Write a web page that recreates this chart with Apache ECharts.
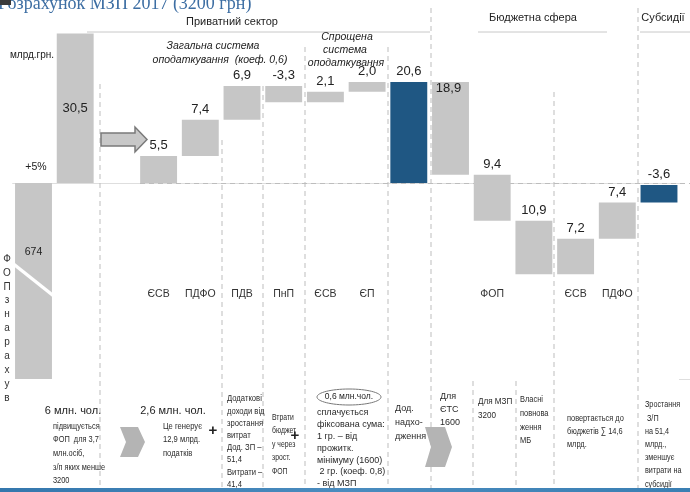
<!DOCTYPE html>
<html><head><meta charset="utf-8">
<script src="https://cdn.jsdelivr.net/npm/echarts@6/dist/echarts.min.js"></script>
<style>html,body{margin:0;padding:0;background:#fff}#c{width:690px;height:492px}</style>
</head><body><div id="c"></div>
<script>
const title = 'Розрахунок МЗП 2017 (3200 грн)';
const categories = ['', '', '', 'ЄСВ', 'ПДФО', 'ПДВ', 'ПнП', 'ЄСВ', 'ЄП', '', '', 'ФОП', '', 'ЄСВ', 'ПДФО', ''];
const deltas = [-674, 30.5, null, 5.5, 7.4, 6.9, -3.3, 2.1, 2.0, 20.6, -18.9, -9.4, -10.9, 7.2, 7.4, -3.6];
const kinds = ['abs', 'abs', 'none', 'step', 'step', 'step', 'step', 'step', 'step', 'total', 'step', 'step', 'step', 'step', 'step', 'total'];
const valueLabels = ['674', '30,5', '', '5,5', '7,4', '6,9', '-3,3', '2,1', '2,0', '20,6', '18,9', '9,4', '10,9', '7,2', '7,4', '-3,6'];
const sectionTitles = ['Приватний сектор', 'Бюджетна сфера', 'Субсидії'];

// build waterfall ranges
let running = 0;
const bars = [];
deltas.forEach((v, i) => {
  const k = kinds[i];
  if (k === 'none' || v === null) return;
  let lo, hi;
  if (k === 'abs') { lo = Math.min(0, v); hi = Math.max(0, v); }
  else if (k === 'step') { const s = running; running += v; lo = Math.min(s, running); hi = Math.max(s, running); }
  else { lo = Math.min(running - v, running); hi = Math.max(running - v, running); }
  bars.push([i, lo, hi, k]);
});

const GRAY = '#c6c6c6', BLUE = '#1f5783', FONT = '"Liberation Sans", Arial, sans-serif';
const labelMode = { 0: 'inside', 1: 'inside', 10: 'insideTop' };

const G = [];
function txt(x, y, t, o) {
  o = o || {};
  G.push({ type: 'text', x: x, y: y, z: 10, style: Object.assign({
    text: t, fill: '#222', font: (o.fs || 10) + 'px ' + FONT,
    align: 'center', verticalAlign: 'middle'
  }, o.st || {}) });
}
function line(x1, y1, x2, y2, color, dash, w, z) {
  G.push({ type: 'line', z: z || 1, shape: { x1, y1, x2, y2 },
    style: { stroke: color, lineWidth: w || 1, lineDash: dash || null } });
}
function note(x, firstCenter, lh, fs, t, sx) {
  G.push({ type: 'text', x: x, y: firstCenter - lh / 2, scaleX: sx || 1, z: 10, style: {
    text: t, fill: '#2a2a2a', font: fs + 'px ' + FONT, lineHeight: lh,
    align: 'left', verticalAlign: 'top' } });
}

// title & small icon
G.push({ type: 'text', x: -2, y: 4, z: 10, style: { text: title, fill: '#3d6ea3', font: '18px "Liberation Serif", "Times New Roman", serif', align: 'left', verticalAlign: 'middle' } });
G.push({ type: 'rect', z: 11, shape: { x: 0, y: 0, width: 11, height: 5 }, style: { fill: '#3a3a3a' } });

// section headers
txt(232, 22, sectionTitles[0], { fs: 11 });
txt(533, 18, sectionTitles[1], { fs: 11 });
txt(663, 18, sectionTitles[2], { fs: 11 });
line(87, 32, 430, 32, '#c8c8c8');
line(478, 32, 607, 32, '#c8c8c8');
line(640, 32, 690, 32, '#c8c8c8');

// dashed separators
const D = '#bdbdbd', DASH = [5, 4];
[[100, 84], [222, 140], [263, 86], [305, 47], [388, 47], [431, 8], [473, 381], [516, 381], [554, 92], [638, 8]]
  .forEach(p => line(p[0], p[1], p[0], 488, D, DASH));
line(140, 183.5, 690, 183.5, D, DASH);
line(679, 379.5, 690, 379.5, '#dedede');

// left annotations
txt(32, 55, 'млрд.грн.', { fs: 10 });
txt(36, 167, '+5%', { fs: 10.5 });
G.push({ type: 'text', x: 7, y: 252, z: 10, style: { text: 'ФОПзнарахув'.split('').join('\n'), fill: '#333', font: '10px ' + FONT, lineHeight: 13.9, align: 'center', verticalAlign: 'top' } });
line(11, 262, 55, 297, '#ffffff', null, 3.5, 50);

// italic group captions
const IT = { fs: 10.5, st: { font: 'italic 10.5px ' + FONT } };
txt(213, 46, 'Загальна система', IT);
txt(220, 60, 'оподаткування  (коеф. 0,6)', IT);
txt(347, 37, 'Спрощена', IT);
txt(345, 50, 'система', IT);
txt(346, 63, 'оподаткування', IT);

// big arrow
G.push({ type: 'polygon', z: 5, shape: { points: [[101, 133], [135, 133], [135, 127], [147, 139.5], [135, 152], [135, 146], [101, 146]] },
  style: { fill: '#c8c8c8', stroke: '#7a7a7a', lineWidth: 1.5 } });

// bottom notes
txt(73, 411, '6 млн. чол.', { fs: 11 });
txt(173, 411, '2,6 млн. чол.', { fs: 11 });
note(53, 426, 13.7, 9.5, 'підвищується\nФОП  для 3,7\nмлн.осіб,\nз/п яких менше\n3200', 0.78);
G.push({ type: 'polygon', z: 5, shape: { points: [[120, 427], [138, 427], [145, 442], [138, 457], [120, 457], [126, 442]] }, style: { fill: '#b4b4b4' } });
note(163, 426, 13.7, 9.5, 'Це генерує\n12,9 млрд.\nподатків', 0.8);
txt(213, 431, '+', { fs: 15, st: { font: 'bold 15px ' + FONT } });
note(227, 399, 12.2, 9, 'Додаткові\nдоходи від\nзростання\nвитрат\nДод. ЗП –\n51,4\nВитрати –\n41,4', 0.85);
note(272, 417, 13.6, 9.5, 'Втрати\nбюджет\nу через\nзрост.\nФОП', 0.72);
txt(295, 436, '+', { fs: 15, st: { font: 'bold 15px ' + FONT } });
G.push({ type: 'ellipse', z: 5, shape: { cx: 349, cy: 397, rx: 32, ry: 8 }, style: { fill: 'none', stroke: '#777', lineWidth: 1 } });
txt(349, 397, '0,6 млн.чол.', { fs: 8.5 });
note(317, 413, 11.8, 9, 'сплачується\nфіксована сума:\n1 гр. – від\nпрожитк.\nмінімуму (1600)\n 2 гр. (коеф. 0,8)\n- від МЗП');
note(395, 409, 14, 9, 'Дод.\nнадхо-\nдження');
G.push({ type: 'polygon', z: 5, shape: { points: [[425, 427], [445, 427], [452, 447], [445, 467], [425, 467], [431, 447]] }, style: { fill: '#b4b4b4' } });
note(440, 397, 12.6, 9, 'Для\nЄТС\n1600');
note(478, 402, 14, 9, 'Для МЗП\n3200', 0.9);
note(520, 400, 13.6, 9, 'Власні\nповнова\nження\nМБ', 0.83);
note(567, 418, 13.3, 9.5, 'повертається до\nбюджетів ∑ 14,6\nмлрд.', 0.78);
note(645, 405, 13.2, 8.5, 'Зростання\n З/П\nна 51,4\nмлрд.,\nзменшує\nвитрати на\nсубсидії', 0.85);

// bottom decorative band
G.push({ type: 'rect', z: 12, shape: { x: 0, y: 488, width: 690, height: 4 },
  style: { fill: new echarts.graphic.LinearGradient(0, 0, 1, 0, [{ offset: 0, color: '#3477ad' }, { offset: 0.5, color: '#4a8cbf' }, { offset: 1, color: '#3a7fb3' }]) } });

const chart = echarts.init(document.getElementById('c'), null, { renderer: 'canvas' });
chart.setOption({
  animation: false,
  grid: { left: 12.65, right: 10.15, top: 6.6, bottom: 113 },
  xAxis: { type: 'category', data: categories, axisTick: { show: false },
    axisLine: { lineStyle: { color: '#dedede' } },
    axisLabel: { interval: 0, margin: -90, fontSize: 10.5, color: '#333', fontFamily: FONT } },
  yAxis: { type: 'value', min: -40, max: 36, show: false, splitLine: { show: false } },
  series: [{
    type: 'custom', clip: true, z: 3,
    data: bars,
    renderItem: function (params, api) {
      const i = api.value(0), lo = api.value(1), hi = api.value(2);
      const k = bars[params.dataIndex][3];
      const pT = api.coord([i, hi]), pB = api.coord([i, lo]);
      const w = api.size([1, 0])[0] * 0.885;
      const rect = { type: 'rect', shape: { x: pT[0] - w / 2, y: pT[1], width: w, height: pB[1] - pT[1] },
        style: { fill: k === 'total' ? BLUE : GRAY } };
      const mode = labelMode[i] || 'top';
      let ty, va = 'middle', fs = 13;
      const yB = Math.min(pB[1], 379);
      if (mode === 'top') { ty = pT[1] - 4; va = 'bottom'; }
      else if (mode === 'insideTop') { ty = pT[1]; va = 'top'; }
      else { ty = (pT[1] + yB) / 2; }
      if (i === 0) { ty -= 29; fs = 10.5; }
      const text = { type: 'text', style: { text: valueLabels[i], x: pT[0] - (mode === 'insideTop' ? 2 : 0), y: ty,
        align: 'center', verticalAlign: va, fill: '#222', font: fs + 'px ' + FONT } };
      return { type: 'group', children: [rect, text] };
    }
  }],
  graphic: G
});
</script></body></html>
